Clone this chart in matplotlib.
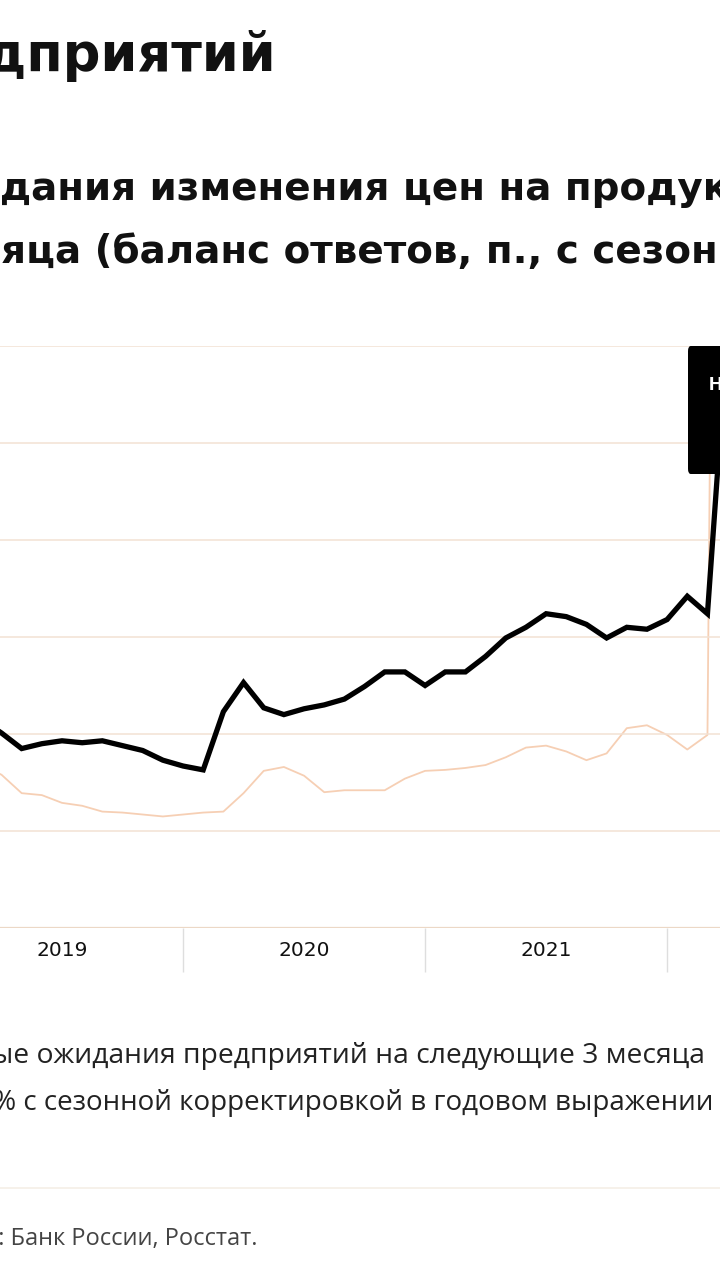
import pandas as pd
import matplotlib.pyplot as plt
from matplotlib.patches import FancyBboxPatch

# monthly data, Mar 2019 - Apr 2022
months = pd.period_range('2019-03', '2022-04', freq='M')

# enterprise price expectations, balance of answers
expectations = [21.5, 20.1, 18.5, 19.0, 19.3, 19.1, 19.3, 18.8, 18.3, 17.3,
                16.7, 16.3, 22.3, 25.3, 22.7, 22.0, 22.6, 23.0, 23.6, 24.9,
                26.4, 26.4, 25.0, 26.4, 26.4, 28.0, 29.9, 31.0, 32.4, 32.1,
                31.3, 29.9, 31.0, 30.8, 31.8, 34.2, 32.4, 61.7]

# CPI, % saar
inflation = [6.8, 5.8, 3.9, 3.7, 2.9, 2.6, 2.0, 1.9, 1.7, 1.5,
             1.7, 1.9, 2.0, 3.9, 6.2, 6.6, 5.7, 4.0, 4.2, 4.2,
             4.2, 5.4, 6.2, 6.3, 6.5, 6.8, 7.6, 8.6, 8.8, 8.2,
             7.3, 8.0, 10.6, 10.9, 9.9, 8.4, 9.9, 250.0]

years = ['2019', '2020', '2021']

title = 'Ценовые ожидания предприятий'
subtitle_1 = 'Ожидания изменения цен на продукцию в ближайшие 3'
subtitle_2 = 'месяца (баланс ответов, п., с сезонной корректировкой)'
legend_1 = 'Ценовые ожидания предприятий на следующие 3 месяца'
legend_2 = 'Инфляция (ИПЦ), % с сезонной корректировкой в годовом выражении'
source = 'Источники: Банк России, Росстат.'

W, H = 720, 1280
fig = plt.figure(figsize=(W / 100, H / 100), dpi=100)
fig.patch.set_facecolor('white')

# month index from Jan 2019
x = [(p.year - 2019) * 12 + p.month - 1 for p in months]

ax = fig.add_axes([0, 1 - 928 / H, 1, 582 / H])
ax2 = ax.twinx()
ax.set_zorder(ax2.get_zorder() + 1)
ax.patch.set_visible(False)

ax2.plot(x, inflation, color='#f6cfb4', lw=1.3)
ax2.set_ylim(-10, 50)
ax2.set_yticks([])

ax.plot(x, expectations, color='black', lw=3.8, solid_joinstyle='miter')
ax.set_xlim(59 / 20.17, 779 / 20.17)
ax.set_ylim(0, 60)

for v in range(10, 61, 10):
    ax.axhline(v, color='#f2e1d3', lw=1.1, zorder=0)
ax.axhline(0, color='#ecd8c6', lw=1.6, zorder=0)

for a in (ax, ax2):
    for s in a.spines.values():
        s.set_visible(False)

ax.set_yticks([])
ax.set_xticks([12, 24, 36])
ax.set_xticklabels([])
ax.tick_params(axis='x', which='major', length=31.5, width=1, color='#dedede')
ax.set_xticks([6, 18, 30], minor=True)
ax.set_xticklabels(years, minor=True, fontsize=14.5, color='#111111',
                   family=['Liberation Sans Narrow', 'DejaVu Sans'])
ax.tick_params(axis='x', which='minor', length=0, pad=9)

renderer = fig.canvas.get_renderer()


def text_width(s, **kw):
    t = fig.text(0, 0, s, **kw)
    w = t.get_window_extent(renderer).width
    t.remove()
    return w


def put_text(s, y_px, x_px, ha='left', cut=None, **kw):
    # cut: number of leading chars hidden left of the figure edge
    if cut:
        x_px = x_px - (text_width(s[:cut + 1], **kw) - text_width(s[cut], **kw))
    fig.text(x_px / W, 1 - y_px / H, s, ha=ha, va='baseline', **kw)


big = dict(family=['DejaVu Sans'], fontweight='bold', color='#111111')
put_text(title, 71, 276, ha='right', fontsize=38, **big)
put_text(subtitle_1, 200, 0, cut=3, fontsize=28, **big)
put_text(subtitle_2, 263, 1, cut=3, fontsize=28, **big)

small = dict(family=['Open Sans', 'DejaVu Sans'], color='#222222')
put_text(legend_1, 1063, 705, ha='right', fontsize=20.3, **small)
put_text(legend_2, 1110, 713, ha='right', fontsize=20, **small)
fig.add_artist(plt.Line2D([0, 1], [1 - 1188 / H] * 2, color='#f5efe6', lw=1.2))
put_text(source, 1245, 258, ha='right', fontsize=17,
         family=['Open Sans', 'DejaVu Sans'], color='#444444')

# black label box at the right edge
box = FancyBboxPatch((688 / W, 1 - 474 / H), 60 / W, 128 / H,
                     boxstyle='round,pad=0,rounding_size=0.004',
                     transform=fig.transFigure, facecolor='black',
                     edgecolor='none', zorder=10)
fig.add_artist(box)
fig.text(709 / W, 1 - 385 / H, 'Н', ha='left', va='center', color='white',
         fontsize=14, fontweight='bold', family=['Roboto', 'DejaVu Sans'],
         zorder=11)

fig.savefig('out.png', dpi=100)
